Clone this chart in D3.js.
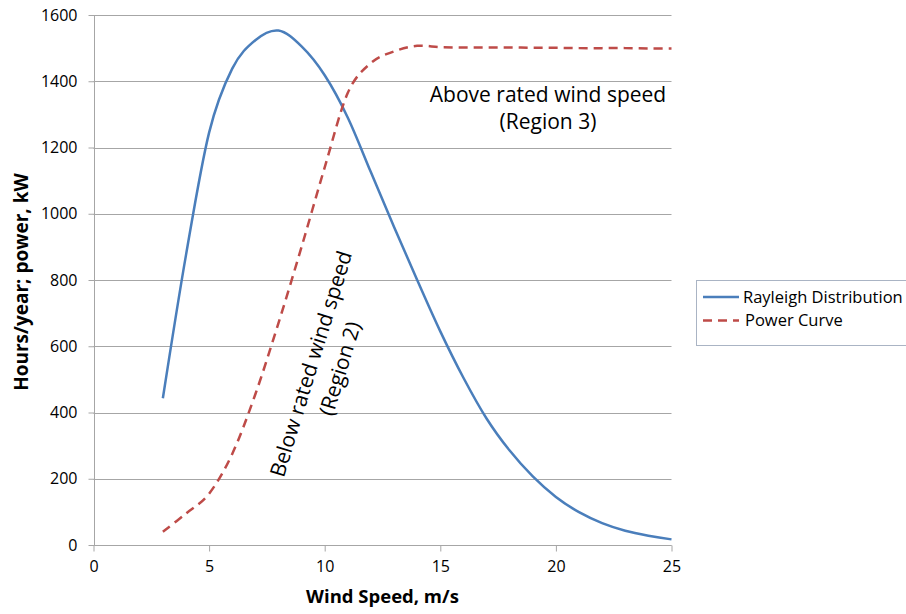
<!DOCTYPE html>
<html><head><meta charset="utf-8">
<script src="https://cdn.jsdelivr.net/npm/d3@7"></script>
<style>body{margin:0;background:#fff}svg{display:block;font-family:"Open Sans",sans-serif}</style>
</head><body><svg id="c" width="906" height="614"></svg>
<script>
const windSpeed = [3,4,5,6,7,8,9,10,11,12,13,14,15,16,17,18,19,20,21,22,23,24,25];
const rayleigh = [443,875,1245,1438,1524,1553,1505,1418,1290,1125,960,800,645,505,382,285,207,145,99,66,43,28,17];
const powerCurve = [40,95,155,275,455,670,900,1140,1365,1455,1490,1507,1503,1502,1502,1502,1501,1501,1500,1500,1500,1499,1499];
const xTicks = [0,5,10,15,20,25];
const yTicks = [0,200,400,600,800,1000,1200,1400,1600];
const seriesNames = ["Rayleigh Distribution","Power Curve"];
const seriesColors = ["#4a7ebb","#be4b48"];

const svg = d3.select("#c");
const L=93.5,R=671.5,T=15,B=545;
const x = d3.scaleLinear().domain([0,25]).range([L,R]);
const y = d3.scaleLinear().domain([0,1600]).range([B,T]);
const grid="#a6a6a6";

svg.append("g").selectAll("line").data(yTicks).join("line")
  .attr("x1",L).attr("x2",R).attr("y1",d=>Math.round(y(d))+0.5).attr("y2",d=>Math.round(y(d))+0.5)
  .attr("stroke",grid).attr("stroke-width",1);

const ya = svg.append("g").attr("transform",`translate(${Math.round(L)+0.5},0)`)
  .call(d3.axisLeft(y).tickValues(yTicks).tickSize(6).tickPadding(11).tickFormat(d3.format("d")));
ya.select(".domain").attr("stroke",grid).attr("d",`M0,${T}V${B}`);
ya.selectAll(".tick line").attr("stroke",grid);
ya.selectAll(".tick text").attr("font-size",16).attr("fill","#000").attr("font-family","Open Sans");

const xa = svg.append("g").attr("transform",`translate(0,${Math.round(B)+0.5})`)
  .call(d3.axisBottom(x).tickValues(xTicks).tickSize(6).tickPadding(9).tickFormat(d3.format("d")));
xa.select(".domain").attr("stroke",grid).attr("d",`M${L},0H${R}`);
xa.selectAll(".tick line").attr("stroke",grid);
xa.selectAll(".tick text").attr("font-size",16).attr("fill","#000").attr("font-family","Open Sans");

svg.append("text").attr("x",(L+R)/2).attr("y",603).attr("text-anchor","middle")
  .attr("font-weight","bold").attr("font-size",18.5).text("Wind Speed, m/s");
svg.append("text").attr("transform",`translate(28,${(T+B)/2+2}) rotate(-90)`).attr("text-anchor","middle")
  .attr("font-weight","bold").attr("font-size",19).text("Hours/year; power, kW");

const line = d3.line().x((d,i)=>x(windSpeed[i])).y(d=>y(d)).curve(d3.curveCardinal.tension(0));
svg.append("path").datum(rayleigh).attr("d",line).attr("fill","none")
  .attr("stroke",seriesColors[0]).attr("stroke-width",2.5);
svg.append("path").datum(powerCurve).attr("d",line).attr("fill","none")
  .attr("stroke",seriesColors[1]).attr("stroke-width",2.5).attr("stroke-dasharray","9,6");

const a3 = svg.append("text").attr("font-size",21).attr("text-anchor","middle");
a3.append("tspan").attr("x",548).attr("y",102).text("Above rated wind speed");
a3.append("tspan").attr("x",548).attr("y",129).text("(Region 3)");
const a2 = svg.append("text").attr("font-size",21).attr("text-anchor","middle")
  .attr("transform","translate(318,366) rotate(-73)");
a2.append("tspan").attr("x",0).attr("y",0).text("Below rated wind speed");
a2.append("tspan").attr("x",4).attr("y",29).text("(Region 2)");

svg.append("rect").attr("x",696.5).attr("y",280.5).attr("width",210).attr("height",65)
  .attr("fill","#fff").attr("stroke","#aab4c4");
const lg = svg.append("g").selectAll("g").data(seriesNames).join("g")
  .attr("transform",(d,i)=>`translate(0,${297+i*23.5})`);
lg.append("line").attr("x1",703).attr("x2",739).attr("y1",0).attr("y2",0)
  .attr("stroke",(d,i)=>seriesColors[i]).attr("stroke-width",2.5)
  .attr("stroke-dasharray",(d,i)=>i?"9,6":null);
lg.append("text").attr("x",(d,i)=>i?745:743).attr("y",5.5).attr("font-size",16.5).text(d=>d);
</script></body></html>
